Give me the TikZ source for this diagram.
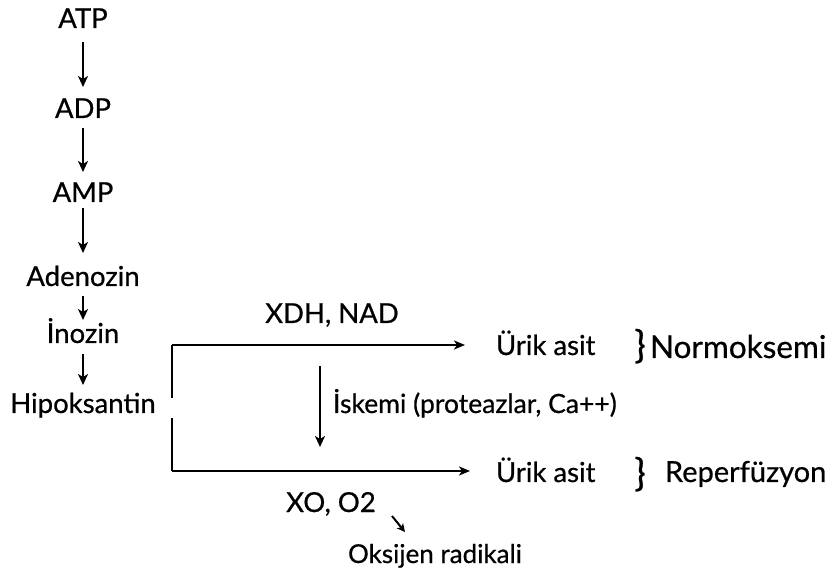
\documentclass[tikz,border=0pt]{standalone}
\usepackage{fontspec}
\setmainfont{Lato}[FakeBold=0.6]
\usetikzlibrary{arrows.meta}
\begin{document}
\begin{tikzpicture}[x=1pt,y=-1pt,
  every node/.style={inner sep=0pt,outer sep=0pt},
  big/.style={font=\fontsize{27.5}{32}\selectfont,anchor=base},
  mid/.style={font=\fontsize{26.5}{30}\selectfont,anchor=base},
  side/.style={font=\fontsize{30}{35}\selectfont,anchor=base west},
  brace/.style={font=\fontsize{38}{42}\selectfont,anchor=base},
  arr/.style={line width=2.2pt,-{Stealth[length=11pt,width=10pt,inset=3pt]}},
  bar/.style={line width=2.2pt},
  harr/.style={line width=2.2pt,-{Stealth[length=11pt,width=9pt,inset=3pt]}}]
\useasboundingbox (0,0) rectangle (836,577);
\node[big] (atp) at (83,28) {ATP};
\node[big] (adp) at (83,118) {ADP};
\node[big] (amp) at (83,202) {AMP};
\node[big] (ade) at (83,286) {Adenozin};
\node[big] (ino) at (83,343) {İnozin};
\node[big] (hip) at (83,413) {Hipoksantin};
\draw[arr] (atp.base) ++(0,14) coordinate (a1) -- (adp.base |- 0,87) coordinate (a2);
\draw[arr] (adp.base) ++(0,10) coordinate (b1) -- (amp.base |- 0,172) coordinate (b2);
\draw[arr] (amp.base) ++(0,6) coordinate (c1) -- (ade.base |- 0,253) coordinate (c2);
\draw[arr] (ade.base) ++(0,10) coordinate (d1) -- (ino.base |- 0,320) coordinate (d2);
\draw[arr] (ino.base) ++(0,11) coordinate (e1) -- (hip.base |- 0,385) coordinate (e2);
\node[big] (xdh) at (332,323) {XDH, NAD};
\node[big,anchor=base west] (u1) at (496,355) {Ürik asit};
\node[big,anchor=base west] (u2) at (496,482) {Ürik asit};
\node[brace] (br1) at (640,358) {\}};
\node[brace] (br2) at (640,486) {\}};
\node[side,font=\fontsize{31.5}{36}\selectfont] (nor) at (650,358) {Normoksemi};
\node[side,font=\fontsize{29}{34}\selectfont] (rep) at (665,482) {Reperfüzyon};
\coordinate (t0) at (172,398);
\coordinate (t1) at (172,345);
\coordinate (s0) at (172,418);
\coordinate (s1) at (172,471);
\draw[bar] (t0) -- (t1);
\draw[harr] (t1) -- ([xshift=-31pt]u1.west |- t1);
\draw[bar] (s0) -- (s1);
\draw[harr] (s1) -- ([xshift=-26pt]u2.west |- s1);
\coordinate (i0) at (320,366);
\coordinate (i1) at (320,447);
\draw[arr] (i0) -- (i1);
\node[mid,anchor=base west] (isk) at (333,413) {İskemi (proteazlar, Ca++)};
\node[big] (xo) at (331,512) {XO, O2};
\node[mid,font=\fontsize{26}{30}\selectfont] (oks) at (435,563) {Oksijen radikali};
\coordinate (o0) at (392,516);
\coordinate (o1) at (405,532);
\draw[line width=2pt,-{Stealth[length=8pt,width=8pt,inset=2pt]}] (o0) -- (o1);
\end{tikzpicture}
\end{document}
